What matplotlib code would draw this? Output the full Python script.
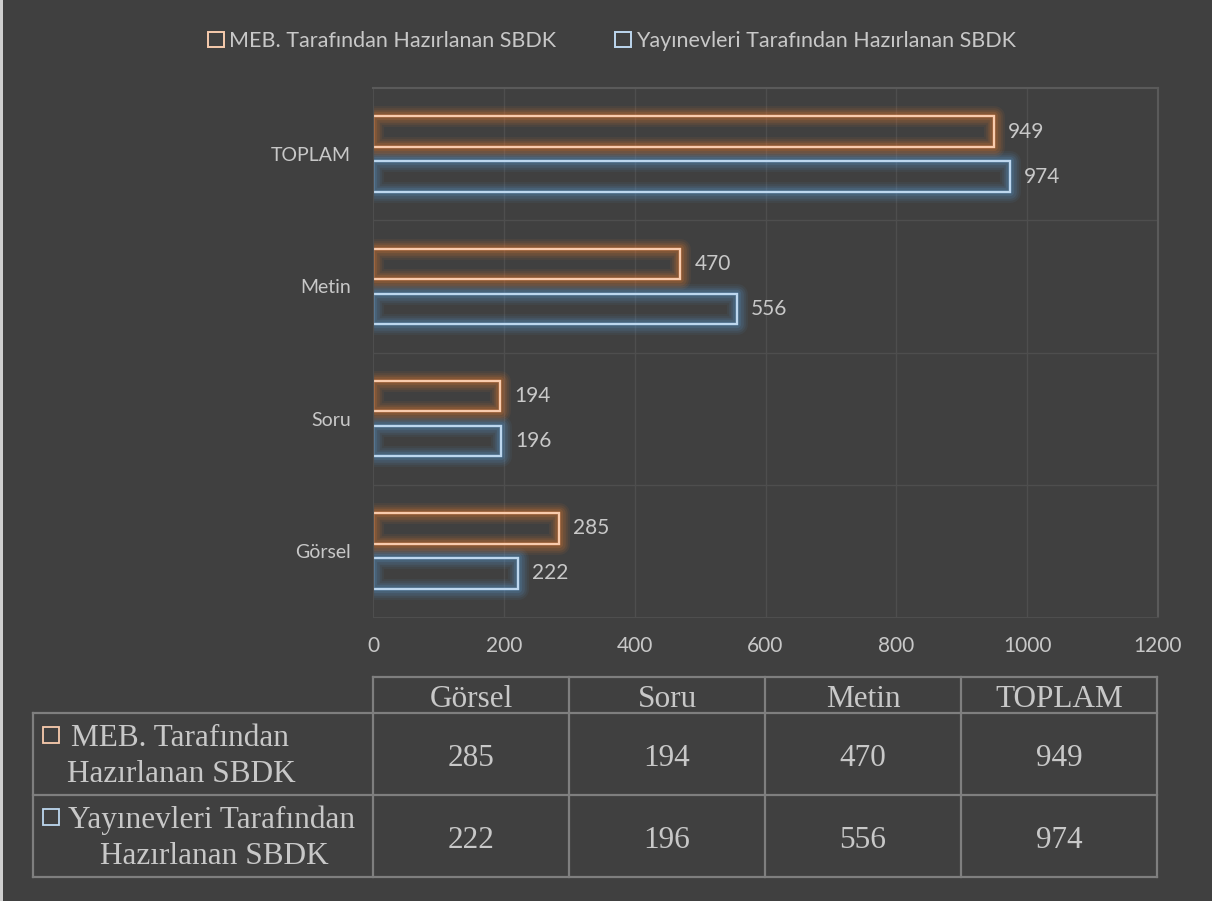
import matplotlib.pyplot as plt
from matplotlib.patches import Patch, Rectangle

# veriler
kategoriler = ['Görsel', 'Soru', 'Metin', 'TOPLAM']
meb = [285, 194, 470, 949]
yayinevi = [222, 196, 556, 974]
seri_adlari = ['MEB. Tarafından Hazırlanan SBDK', 'Yayınevleri Tarafından Hazırlanan SBDK']
tablo_satir = [['MEB. Tarafından', 'Hazırlanan SBDK'], ['Yayınevleri Tarafından', 'Hazırlanan SBDK']]
x_ticks = [0, 200, 400, 600, 800, 1000, 1200]

BG = '#404040'
TXT = '#c8c8c8'
OR_EDGE = '#f8cbad'
OR_GLOW = '#ed7d31'
BL_EDGE = '#bdd7ee'
BL_GLOW = '#5b9bd5'
GRID = '#4e4e4e'
TABLE_LINE = '#7f7f7f'

plt.rcParams['font.family'] = ['Lato', 'DejaVu Sans']

fig = plt.figure(figsize=(12.12, 9.01), dpi=100, facecolor=BG)
W, H = 1212, 901

# sol kenar çizgisi
fig.patches.append(Rectangle((0, 0), 3 / W, 1, transform=fig.transFigure,
                             facecolor='#cfcfcf', edgecolor='none'))

ax = fig.add_axes([373 / W, 1 - 617 / H, (1158 - 373) / W, (617 - 88) / H])
ax.set_facecolor(BG)

y = list(range(len(kategoriler)))
off = 0.17
h = 0.23
y_meb = [v + off for v in y]
y_yay = [v - off for v in y]

# parıltı efekti
for lw, a in [(15, 0.07), (12, 0.09), (9, 0.12), (6, 0.16), (3, 0.22)]:
    ax.barh(y_meb, meb, height=h, facecolor='none', edgecolor=OR_GLOW,
            linewidth=lw, alpha=a, joinstyle='round')
    ax.barh(y_yay, yayinevi, height=h, facecolor='none', edgecolor=BL_GLOW,
            linewidth=lw, alpha=a, joinstyle='round')

b1 = ax.barh(y_meb, meb, height=h, facecolor='none', edgecolor=OR_EDGE, linewidth=1.6)
b2 = ax.barh(y_yay, yayinevi, height=h, facecolor='none', edgecolor=BL_EDGE, linewidth=1.6)
ax.bar_label(b1, padding=10, color=TXT, fontsize=15)
ax.bar_label(b2, padding=10, color=TXT, fontsize=15)

ax.set_xlim(0, 1200)
ax.set_ylim(-0.5, len(kategoriler) - 0.5)
ax.set_xticks(x_ticks)
ax.set_yticks(y)
ax.set_yticklabels(kategoriler)
ax.tick_params(axis='both', length=0, colors=TXT)
ax.tick_params(axis='x', pad=14, labelsize=15)
ax.tick_params(axis='y', pad=16, labelsize=14)
for xv in x_ticks[1:-1]:
    ax.axvline(xv, color=GRID, lw=1, zorder=0)
for k in range(len(kategoriler) - 1):
    ax.axhline(k + 0.5, color=GRID, lw=1, zorder=0)
for s in ['left', 'bottom']:
    ax.spines[s].set_color(GRID)
for s in ['top', 'right']:
    ax.spines[s].set_color('#5a5a5a')
    ax.spines[s].set_linewidth(1.5)

# üst açıklama
handles = [Patch(facecolor='none', edgecolor=OR_EDGE, linewidth=1.4),
           Patch(facecolor='none', edgecolor=BL_EDGE, linewidth=1.4)]
leg = fig.legend(handles, seri_adlari, loc='center', bbox_to_anchor=(612 / W, 1 - 41 / H),
                 ncol=2, frameon=False, fontsize=15.5, handlelength=0.75, handleheight=0.75,
                 handletextpad=0.25, columnspacing=2.7)
for t in leg.get_texts():
    t.set_color(TXT)

# tablo
tx = fig.add_axes([0, 0, 1, 1], facecolor='none')
tx.set_xlim(0, W)
tx.set_ylim(H, 0)
tx.axis('off')
col_x = [33, 373, 569, 765, 961, 1157]
row_y = [677, 713, 795, 877]
serif = ['Liberation Serif', 'DejaVu Serif']
fs = 22.5
lkw = dict(color=TABLE_LINE, lw=1.6)
tx.plot([col_x[1], col_x[-1]], [row_y[0], row_y[0]], **lkw)
for ry in row_y[1:]:
    tx.plot([col_x[0], col_x[-1]], [ry, ry], **lkw)
tx.plot([col_x[0], col_x[0]], [row_y[1], row_y[-1]], **lkw)
for cx in col_x[1:]:
    tx.plot([cx, cx], [row_y[0], row_y[-1]], **lkw)

for j, k in enumerate(kategoriler):
    cx = (col_x[j + 1] + col_x[j + 2]) / 2
    tx.text(cx, row_y[1] - 6, k, ha='center', va='baseline',
            family=serif, fontsize=fs, color=TXT)
for i, vals in enumerate([meb, yayinevi]):
    base = row_y[i + 1] + 52.5
    for j, v in enumerate(vals):
        cx = (col_x[j + 1] + col_x[j + 2]) / 2
        tx.text(cx, base, str(v), ha='center', va='baseline', family=serif,
                fontsize=fs, color=TXT)

marker_cols = [OR_EDGE, BL_EDGE]
line1_x = [71, 68]
line2_x = [67, 100]
for i, (l1, l2) in enumerate(tablo_satir):
    top = row_y[i + 1]
    tx.add_patch(Rectangle((43, top + 14), 16, 16, facecolor='none',
                           edgecolor=marker_cols[i], lw=1.3))
    tx.text(line1_x[i], top + 33, l1, ha='left', va='baseline', family=serif,
            fontsize=fs, color=TXT)
    tx.text(line2_x[i], top + 69, l2, ha='left', va='baseline', family=serif,
            fontsize=fs, color=TXT)

fig.savefig('out.png', dpi=100, facecolor=BG)
